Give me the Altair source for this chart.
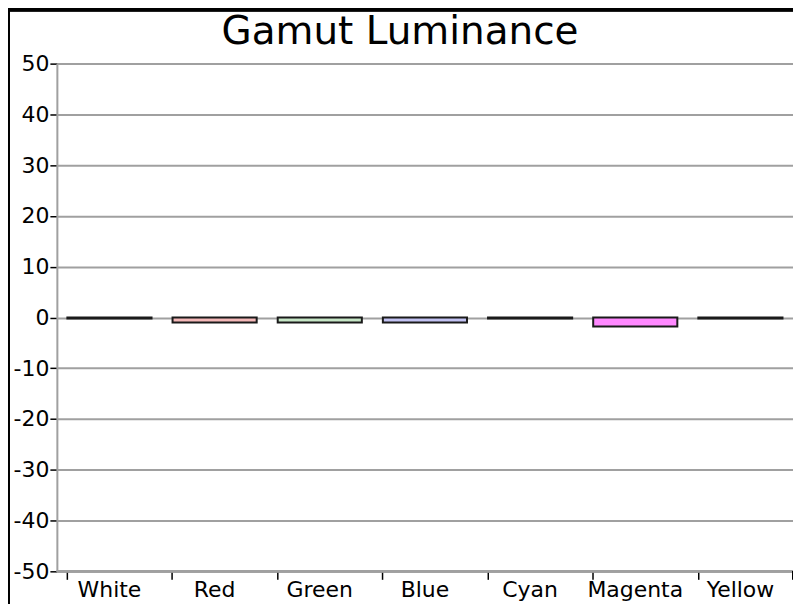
import altair as alt
import pandas as pd

categories = ["White", "Red", "Green", "Blue", "Cyan", "Magenta", "Yellow"]
values = [-0.2, -1.0, -1.0, -1.0, -0.2, -1.8, -0.2]
fills = ["#ffffff", "#f4b8b8", "#c6e6c6", "#c2c2f2", "#c0ffff", "#ff88ff", "#ffffc0"]
y_ticks = [-50, -40, -30, -20, -10, 0, 10, 20, 30, 40, 50]
title_text = ["Gamut Luminance"]

df = pd.DataFrame({"cat": categories, "val": values, "fill": fills})
tdf = pd.DataFrame({"t": title_text})

W, H = 738, 509
FONT = "DejaVu Sans"

bars = alt.Chart(df).mark_bar(stroke="#1a1a1a", strokeWidth=2).encode(
    x=alt.X("cat:N", sort=categories, title=None,
            scale=alt.Scale(paddingInner=0.2, paddingOuter=0.1),
            axis=alt.Axis(labelAngle=0, labelFont=FONT, labelFontSize=22,
                          labelColor="#000000", labelPadding=0,
                          bandPosition=0, tickColor="#000000", tickSize=8,
                          tickWidth=1.5, domain=False, grid=False)),
    y=alt.Y("val:Q", title=None,
            scale=alt.Scale(domain=[-50, 50], nice=False, zero=False),
            axis=alt.Axis(values=y_ticks, labelFont=FONT, labelFontSize=22,
                          labelExpr="'' + datum.value",
                          labelColor="#000000", labelPadding=1,
                          tickColor="#000000", tickSize=7, tickWidth=1.5,
                          domainColor="#a0a0a0", domainWidth=2,
                          gridColor="#a0a0a0", gridWidth=2, gridOpacity=1)),
    fill=alt.Fill("fill:N", scale=None),
)

bottom_axis = alt.Chart(df).mark_rule(color="#a0a0a0", strokeWidth=2).encode(
    x=alt.value(0), x2=alt.value(W), y=alt.value(H)
)
last_tick = alt.Chart(df).mark_rule(color="#000000", strokeWidth=1.5).encode(
    x=alt.value(W), y=alt.value(H), y2=alt.value(H + 8)
)
border_top = alt.Chart(df).mark_rule(color="#000000", strokeWidth=3).encode(
    x=alt.value(-49), x2=alt.value(W + 20), y=alt.value(-54)
)
border_left = alt.Chart(df).mark_rule(color="#000000", strokeWidth=3).encode(
    x=alt.value(-49), y=alt.value(-54), y2=alt.value(H + 40)
)
title = alt.Chart(tdf).mark_text(font=FONT, fontSize=39, color="#000000",
                                 align="center", baseline="alphabetic").encode(
    text="t:N", x=alt.value(344), y=alt.value(-20)
)

chart = alt.layer(bars, bottom_axis, last_tick, border_top, border_left, title).properties(
    width=W, height=H,
    autosize=alt.AutoSizeParams(type="none"),
    padding={"left": 49, "top": 55, "right": 0, "bottom": 34},
).configure_view(stroke="#a0a0a0", strokeWidth=2).configure(background="#ffffff")

chart.save("out.html", embed_options={"renderer": "svg", "actions": False})
